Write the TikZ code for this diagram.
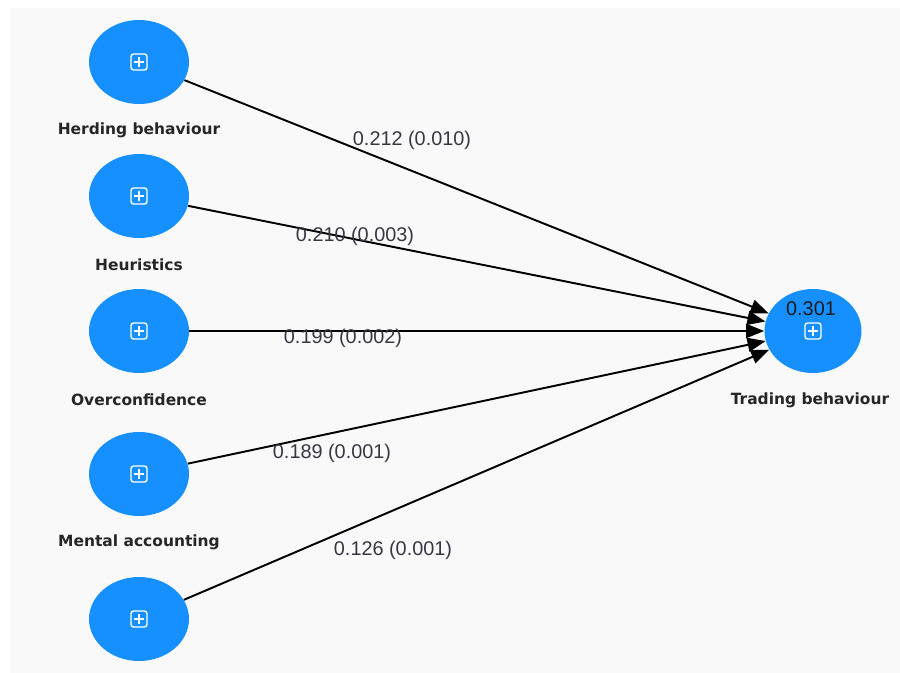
\documentclass[tikz,border=0pt]{standalone}
\usepackage{fontspec}
\setmainfont{Liberation Sans}
\newfontfamily\lvfont{DejaVu Sans}
\usepackage{tikz}
\usetikzlibrary{arrows.meta, positioning, shapes.geometric}
\definecolor{plsblue}{RGB}{22, 144, 255}
\definecolor{plsback}{RGB}{249, 249, 249}
\definecolor{plstext}{RGB}{55, 55, 68}

\begin{document}
\begin{tikzpicture}[
    x=0.02cm, y=-0.02cm,
    latent/.style={ellipse, fill=plsblue, minimum width=2cm, minimum height=1.68cm, inner sep=0pt,
        path picture={
            \draw[white, line width=0.8pt, rounded corners=1.5pt, shift={(path picture bounding box.center)}] (-8,-8) rectangle (8,8);
            \draw[white, line width=0.9pt, shift={(path picture bounding box.center)}] (-5,0) -- (5,0) (0,-5) -- (0,5);
        }},
    lvname/.style={font=\lvfont\bfseries\fontsize{8.8}{10}\selectfont, text=black!85},
    coef/.style={font=\fontsize{11.3}{13}\selectfont, text=plstext, inner sep=0pt},
    arr/.style={-{Triangle[length=0.36cm, width=0.28cm]}, line width=1.1pt, black}
]

\useasboundingbox (0,0) rectangle (900,673);
\fill[white] (0,0) rectangle (900,673);
\fill[plsback] (10,8) rectangle (900,673);

% constructs
\node[latent] (herd) at (139,62) {};
\node[latent] (heur) at (139,196) {};
\node[latent] (over) at (139,331) {};
\node[latent] (ment) at (139,474) {};
\node[latent] (lvfive) at (139,619) {};
\node[latent, minimum width=1.94cm] (trade) at (813,331) {};

\node[lvname] (herdlab) at (139,130) {Herding behaviour};
\node[lvname] (heurlab) at (139,265) {Heuristics};
\node[lvname] (overlab) at (139,400) {Overconfidence};
\node[lvname] (mentlab) at (139,542) {Mental accounting};
\node[lvname] (tradelab) at (810,400) {Trading behaviour};
\node[coef, text=black!90] (rsq) at (811,309) {0.301};

% paths
\draw[arr] (herd) -- (trade);
\draw[arr] (heur) -- (trade);
\draw[arr] (over) -- (trade);
\draw[arr] (ment) -- (trade);
\draw[arr] (lvfive) -- (trade);

\node[coef] (c1) at (412,140) {0.212 (0.010)};
\node[coef] (c2) at (355,236) {0.210 (0.003)};
\node[coef] (c3) at (343,338) {0.199 (0.002)};
\node[coef] (c4) at (332,453) {0.189 (0.001)};
\node[coef] (c5) at (393,550) {0.126 (0.001)};

\end{tikzpicture}
\end{document}
